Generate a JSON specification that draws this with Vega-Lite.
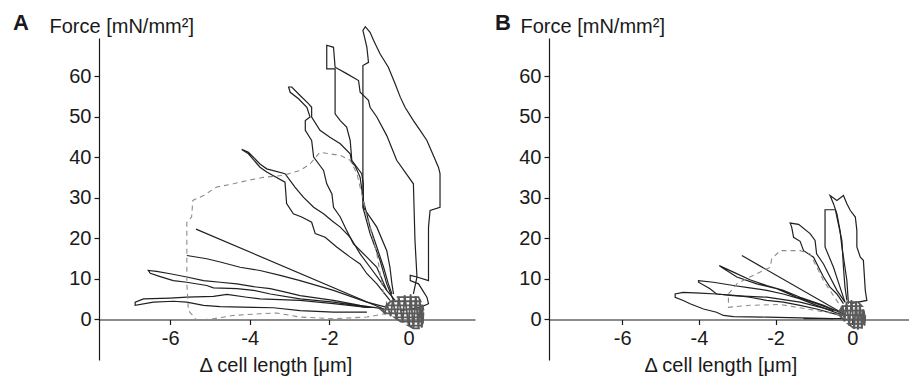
{
"$schema":"https://vega.github.io/schema/vega-lite/v6.json",
"padding":{"left":13,"top":11,"right":0,"bottom":0},
"spacing":20,
"config":{"view":{"stroke":null},"font":"Liberation Sans",
 "axis":{"grid":false,"domainColor":"#1a1a1a","tickColor":"#1a1a1a","labelColor":"#1a1a1a","titleColor":"#1a1a1a","labelFontSize":20,"titleFontSize":20,"titleFontWeight":"normal","tickSize":5,"domainWidth":1.2,"tickWidth":1.2,"labelFont":"Liberation Sans","titleFont":"Liberation Sans"},
 "title":{"fontSize":22,"fontWeight":"bold","color":"#1a1a1a","anchor":"start","frame":"group","font":"Liberation Sans"}},
"datasets":{
"A":[
{"trace":"1","i":0,"x":-0.21,"y":2.2},{"trace":"1","i":1,"x":0.29,"y":3.0},{"trace":"1","i":2,"x":0.50,"y":3.9},{"trace":"1","i":3,"x":0.46,"y":5.5},{"trace":"1","i":4,"x":0.25,"y":8.8},{"trace":"1","i":5,"x":0.04,"y":9.6},{"trace":"1","i":6,"x":0.04,"y":10.9},{"trace":"1","i":7,"x":0.21,"y":10.5},{"trace":"1","i":8,"x":0.50,"y":9.6},{"trace":"1","i":9,"x":0.50,"y":22.8},{"trace":"1","i":10,"x":0.54,"y":26.9},{"trace":"1","i":11,"x":0.79,"y":27.7},{"trace":"1","i":12,"x":0.79,"y":36.0},{"trace":"1","i":13,"x":0.75,"y":37.6},{"trace":"1","i":14,"x":0.46,"y":44.2},{"trace":"1","i":15,"x":0.29,"y":46.7},{"trace":"1","i":16,"x":0.12,"y":49.1},{"trace":"1","i":17,"x":-0.09,"y":52.4},{"trace":"1","i":18,"x":-0.21,"y":54.9},{"trace":"1","i":19,"x":-0.34,"y":58.2},{"trace":"1","i":20,"x":-0.51,"y":62.3},{"trace":"1","i":21,"x":-0.72,"y":65.6},{"trace":"1","i":22,"x":-0.88,"y":68.9},{"trace":"1","i":23,"x":-0.97,"y":70.9},{"trace":"1","i":24,"x":-1.09,"y":72.3},{"trace":"1","i":25,"x":-1.15,"y":71.4},{"trace":"1","i":26,"x":-1.05,"y":67.2},{"trace":"1","i":27,"x":-1.01,"y":63.5},{"trace":"1","i":28,"x":-1.15,"y":62.7},{"trace":"1","i":29,"x":-1.15,"y":45.8},{"trace":"1","i":30,"x":-1.15,"y":27.7},{"trace":"1","i":31,"x":-0.97,"y":21.2},{"trace":"1","i":32,"x":-0.72,"y":14.6},{"trace":"1","i":33,"x":-0.55,"y":8.8},{"trace":"1","i":34,"x":-0.38,"y":4.7},
{"trace":"2","i":0,"x":-0.38,"y":6.3},{"trace":"2","i":1,"x":-0.42,"y":8.8},{"trace":"2","i":2,"x":-0.47,"y":12.9},{"trace":"2","i":3,"x":-0.55,"y":17.0},{"trace":"2","i":4,"x":-0.80,"y":22.8},{"trace":"2","i":5,"x":-1.14,"y":27.7},{"trace":"2","i":6,"x":-1.14,"y":33.5},{"trace":"2","i":7,"x":-1.18,"y":36.0},{"trace":"2","i":8,"x":-1.43,"y":39.3},{"trace":"2","i":9,"x":-1.47,"y":44.2},{"trace":"2","i":10,"x":-1.56,"y":47.5},{"trace":"2","i":11,"x":-1.72,"y":49.1},{"trace":"2","i":12,"x":-1.85,"y":50.8},{"trace":"2","i":13,"x":-1.85,"y":61.9},{"trace":"2","i":14,"x":-2.06,"y":61.9},{"trace":"2","i":15,"x":-2.06,"y":67.7},{"trace":"2","i":16,"x":-1.89,"y":67.2},{"trace":"2","i":17,"x":-1.85,"y":62.3},{"trace":"2","i":18,"x":-1.56,"y":60.7},{"trace":"2","i":19,"x":-1.26,"y":59.0},{"trace":"2","i":20,"x":-1.22,"y":56.1},{"trace":"2","i":21,"x":-1.01,"y":54.1},{"trace":"2","i":22,"x":-0.97,"y":52.4},{"trace":"2","i":23,"x":-0.80,"y":50.0},{"trace":"2","i":24,"x":-0.55,"y":45.4},{"trace":"2","i":25,"x":-0.30,"y":39.3},{"trace":"2","i":26,"x":0.12,"y":33.5},{"trace":"2","i":27,"x":0.16,"y":19.5},{"trace":"2","i":28,"x":0.21,"y":10.5},{"trace":"2","i":29,"x":0.12,"y":6.3},
{"trace":"3","i":0,"x":-0.55,"y":7.2},{"trace":"3","i":1,"x":-0.80,"y":12.9},{"trace":"3","i":2,"x":-1.05,"y":15.4},{"trace":"3","i":3,"x":-1.39,"y":18.7},{"trace":"3","i":4,"x":-1.56,"y":22.0},{"trace":"3","i":5,"x":-1.72,"y":25.3},{"trace":"3","i":6,"x":-1.89,"y":27.7},{"trace":"3","i":7,"x":-1.93,"y":31.0},{"trace":"3","i":8,"x":-2.06,"y":33.5},{"trace":"3","i":9,"x":-2.14,"y":36.8},{"trace":"3","i":10,"x":-2.39,"y":40.1},{"trace":"3","i":11,"x":-2.44,"y":44.2},{"trace":"3","i":12,"x":-2.60,"y":46.7},{"trace":"3","i":13,"x":-2.60,"y":49.1},{"trace":"3","i":14,"x":-2.48,"y":50.0},{"trace":"3","i":15,"x":-2.56,"y":52.4},{"trace":"3","i":16,"x":-2.77,"y":54.5},{"trace":"3","i":17,"x":-2.98,"y":56.1},{"trace":"3","i":18,"x":-3.02,"y":57.4},{"trace":"3","i":19,"x":-2.94,"y":57.4},{"trace":"3","i":20,"x":-2.73,"y":55.3},{"trace":"3","i":21,"x":-2.52,"y":53.3},{"trace":"3","i":22,"x":-2.44,"y":52.4},{"trace":"3","i":23,"x":-2.44,"y":50.0},{"trace":"3","i":24,"x":-2.23,"y":46.7},{"trace":"3","i":25,"x":-1.98,"y":45.0},{"trace":"3","i":26,"x":-1.72,"y":43.4},{"trace":"3","i":27,"x":-1.47,"y":40.9},{"trace":"3","i":28,"x":-1.43,"y":38.8},{"trace":"3","i":29,"x":-1.35,"y":38.0},{"trace":"3","i":30,"x":-1.22,"y":35.1},{"trace":"3","i":31,"x":-1.14,"y":29.4},{"trace":"3","i":32,"x":-0.97,"y":22.8},{"trace":"3","i":33,"x":-0.80,"y":17.9},{"trace":"3","i":34,"x":-0.63,"y":12.9},{"trace":"3","i":35,"x":-0.51,"y":8.8},{"trace":"3","i":36,"x":-0.42,"y":6.3},
{"trace":"4","i":0,"x":-0.47,"y":4.7},{"trace":"4","i":1,"x":-0.80,"y":8.8},{"trace":"4","i":2,"x":-1.05,"y":11.3},{"trace":"4","i":3,"x":-1.22,"y":13.7},{"trace":"4","i":4,"x":-1.47,"y":15.4},{"trace":"4","i":5,"x":-1.81,"y":17.9},{"trace":"4","i":6,"x":-2.10,"y":20.3},{"trace":"4","i":7,"x":-2.35,"y":21.2},{"trace":"4","i":8,"x":-2.44,"y":24.0},{"trace":"4","i":9,"x":-2.69,"y":25.3},{"trace":"4","i":10,"x":-2.90,"y":26.1},{"trace":"4","i":11,"x":-3.07,"y":28.6},{"trace":"4","i":12,"x":-3.11,"y":33.9},{"trace":"4","i":13,"x":-3.57,"y":36.4},{"trace":"4","i":14,"x":-3.74,"y":37.6},{"trace":"4","i":15,"x":-4.03,"y":40.9},{"trace":"4","i":16,"x":-4.20,"y":42.0},{"trace":"4","i":17,"x":-4.03,"y":41.3},{"trace":"4","i":18,"x":-3.74,"y":38.4},{"trace":"4","i":19,"x":-3.57,"y":37.2},{"trace":"4","i":20,"x":-3.11,"y":36.0},{"trace":"4","i":21,"x":-2.98,"y":34.3},{"trace":"4","i":22,"x":-2.86,"y":32.7},{"trace":"4","i":23,"x":-2.65,"y":30.2},{"trace":"4","i":24,"x":-2.39,"y":27.7},{"trace":"4","i":25,"x":-2.14,"y":26.1},{"trace":"4","i":26,"x":-1.93,"y":24.4},{"trace":"4","i":27,"x":-1.72,"y":22.8},{"trace":"4","i":28,"x":-1.47,"y":20.3},{"trace":"4","i":29,"x":-1.22,"y":16.2},{"trace":"4","i":30,"x":-0.97,"y":12.9},{"trace":"4","i":31,"x":-0.72,"y":9.6},{"trace":"4","i":32,"x":-0.55,"y":7.2},{"trace":"4","i":33,"x":-0.34,"y":4.7},
{"trace":"5","i":0,"x":-0.63,"y":6.3},{"trace":"5","i":1,"x":-0.80,"y":16.2},{"trace":"5","i":2,"x":-0.93,"y":21.2},{"trace":"5","i":3,"x":-1.05,"y":25.3},{"trace":"5","i":4,"x":-1.18,"y":31.0},{"trace":"5","i":5,"x":-1.30,"y":36.0},{"trace":"5","i":6,"x":-1.47,"y":39.3},{"trace":"5","i":7,"x":-1.72,"y":40.5},{"trace":"5","i":8,"x":-2.23,"y":41.3},{"trace":"5","i":9,"x":-2.48,"y":38.4},{"trace":"5","i":10,"x":-2.73,"y":36.8},{"trace":"5","i":11,"x":-3.15,"y":35.6},{"trace":"5","i":12,"x":-3.65,"y":35.1},{"trace":"5","i":13,"x":-4.07,"y":34.3},{"trace":"5","i":14,"x":-4.41,"y":33.5},{"trace":"5","i":15,"x":-4.83,"y":32.7},{"trace":"5","i":16,"x":-5.16,"y":30.6},{"trace":"5","i":17,"x":-5.43,"y":29.4},{"trace":"5","i":18,"x":-5.46,"y":25.3},{"trace":"5","i":19,"x":-5.58,"y":24.0},{"trace":"5","i":20,"x":-5.58,"y":17.0},{"trace":"5","i":21,"x":-5.58,"y":8.8},{"trace":"5","i":22,"x":-5.54,"y":2.2},{"trace":"5","i":23,"x":-5.33,"y":-0.2},{"trace":"5","i":24,"x":-4.91,"y":0.2},{"trace":"5","i":25,"x":-4.41,"y":1.0},{"trace":"5","i":26,"x":-3.74,"y":1.4},{"trace":"5","i":27,"x":-3.32,"y":1.6},{"trace":"5","i":28,"x":-2.73,"y":0.6},{"trace":"5","i":29,"x":-1.89,"y":0.2},{"trace":"5","i":30,"x":-1.05,"y":0.6},{"trace":"5","i":31,"x":-0.38,"y":1.8},
{"trace":"6","i":0,"x":-5.35,"y":22.3},{"trace":"6","i":1,"x":-0.63,"y":2.6},
{"trace":"7","i":0,"x":-5.58,"y":15.8},{"trace":"7","i":1,"x":-5.08,"y":15.0},{"trace":"7","i":2,"x":-4.74,"y":14.2},{"trace":"7","i":3,"x":-4.24,"y":12.9},{"trace":"7","i":4,"x":-3.74,"y":12.1},{"trace":"7","i":5,"x":-3.23,"y":10.9},{"trace":"7","i":6,"x":-2.73,"y":9.6},{"trace":"7","i":7,"x":-1.89,"y":7.2},{"trace":"7","i":8,"x":-1.05,"y":4.3},{"trace":"7","i":9,"x":-0.55,"y":3.0},
{"trace":"8","i":0,"x":-1.05,"y":3.0},{"trace":"8","i":1,"x":-1.89,"y":4.3},{"trace":"8","i":2,"x":-2.73,"y":5.1},{"trace":"8","i":3,"x":-3.48,"y":6.3},{"trace":"8","i":4,"x":-3.90,"y":7.2},{"trace":"8","i":5,"x":-4.32,"y":7.6},{"trace":"8","i":6,"x":-4.91,"y":7.8},{"trace":"8","i":7,"x":-5.08,"y":8.4},{"trace":"8","i":8,"x":-5.58,"y":9.2},{"trace":"8","i":9,"x":-5.92,"y":9.6},{"trace":"8","i":10,"x":-6.25,"y":10.6},{"trace":"8","i":11,"x":-6.50,"y":11.4},{"trace":"8","i":12,"x":-6.55,"y":12.1},{"trace":"8","i":13,"x":-6.34,"y":11.9},{"trace":"8","i":14,"x":-6.00,"y":11.3},{"trace":"8","i":15,"x":-5.58,"y":10.5},{"trace":"8","i":16,"x":-5.16,"y":9.6},{"trace":"8","i":17,"x":-4.74,"y":9.2},{"trace":"8","i":18,"x":-4.32,"y":8.8},{"trace":"8","i":19,"x":-3.90,"y":8.1},{"trace":"8","i":20,"x":-3.48,"y":7.6},{"trace":"8","i":21,"x":-3.07,"y":6.7},{"trace":"8","i":22,"x":-2.73,"y":5.9},{"trace":"8","i":23,"x":-1.89,"y":4.7},{"trace":"8","i":24,"x":-1.22,"y":3.5},{"trace":"8","i":25,"x":-0.63,"y":2.6},
{"trace":"9","i":0,"x":-1.05,"y":1.8},{"trace":"9","i":1,"x":-1.89,"y":1.8},{"trace":"9","i":2,"x":-2.73,"y":2.2},{"trace":"9","i":3,"x":-3.40,"y":2.9},{"trace":"9","i":4,"x":-3.90,"y":3.0},{"trace":"9","i":5,"x":-4.74,"y":3.2},{"trace":"9","i":6,"x":-5.16,"y":3.5},{"trace":"9","i":7,"x":-5.58,"y":4.3},{"trace":"9","i":8,"x":-5.92,"y":4.5},{"trace":"9","i":9,"x":-6.42,"y":4.3},{"trace":"9","i":10,"x":-6.88,"y":3.5},{"trace":"9","i":11,"x":-6.88,"y":4.3},{"trace":"9","i":12,"x":-6.67,"y":5.1},{"trace":"9","i":13,"x":-6.00,"y":5.3},{"trace":"9","i":14,"x":-5.58,"y":5.5},{"trace":"9","i":15,"x":-4.91,"y":5.7},{"trace":"9","i":16,"x":-4.57,"y":6.2},{"trace":"9","i":17,"x":-4.07,"y":5.5},{"trace":"9","i":18,"x":-3.74,"y":5.1},{"trace":"9","i":19,"x":-2.73,"y":4.7},{"trace":"9","i":20,"x":-1.89,"y":3.9},{"trace":"9","i":21,"x":-1.05,"y":3.0},
{"trace":"c1","i":0,"x":-0.70,"y":2.6},{"trace":"c1","i":1,"x":-0.60,"y":1.5},{"trace":"c1","i":2,"x":-0.55,"y":3.8},{"trace":"c1","i":3,"x":-0.45,"y":0.8},{"trace":"c1","i":4,"x":-0.40,"y":4.8},{"trace":"c1","i":5,"x":-0.30,"y":0.0},{"trace":"c1","i":6,"x":-0.25,"y":5.6},{"trace":"c1","i":7,"x":-0.15,"y":-0.8},{"trace":"c1","i":8,"x":-0.10,"y":6.0},{"trace":"c1","i":9,"x":0.00,"y":-1.5},{"trace":"c1","i":10,"x":0.05,"y":6.2},{"trace":"c1","i":11,"x":0.12,"y":-2.2},{"trace":"c1","i":12,"x":0.18,"y":5.8},{"trace":"c1","i":13,"x":0.25,"y":-2.3},{"trace":"c1","i":14,"x":0.28,"y":5.0},{"trace":"c1","i":15,"x":0.33,"y":-2.0},{"trace":"c1","i":16,"x":0.35,"y":3.5},{"trace":"c1","i":17,"x":0.36,"y":-1.0},{"trace":"c1","i":18,"x":0.37,"y":1.5},
{"trace":"c2","i":0,"x":-0.30,"y":5.5},{"trace":"c2","i":1,"x":0.25,"y":5.5},{"trace":"c2","i":2,"x":0.30,"y":4.5},{"trace":"c2","i":3,"x":-0.45,"y":4.5},{"trace":"c2","i":4,"x":-0.55,"y":3.5},{"trace":"c2","i":5,"x":0.35,"y":3.5},{"trace":"c2","i":6,"x":0.37,"y":2.5},{"trace":"c2","i":7,"x":-0.70,"y":2.5},{"trace":"c2","i":8,"x":-0.55,"y":1.5},{"trace":"c2","i":9,"x":0.37,"y":1.5},{"trace":"c2","i":10,"x":0.36,"y":0.5},{"trace":"c2","i":11,"x":-0.35,"y":0.5},{"trace":"c2","i":12,"x":-0.20,"y":-0.5},{"trace":"c2","i":13,"x":0.35,"y":-0.5},{"trace":"c2","i":14,"x":0.34,"y":-1.5},{"trace":"c2","i":15,"x":0.00,"y":-1.5},{"trace":"c2","i":16,"x":0.12,"y":-2.2},{"trace":"c2","i":17,"x":0.28,"y":-2.2}
],
"B":[
{"trace":"1","i":0,"x":-2.88,"y":15.8},{"trace":"1","i":1,"x":-0.23,"y":1.4},
{"trace":"2","i":0,"x":-0.23,"y":1.4},{"trace":"2","i":1,"x":-0.75,"y":3.5},{"trace":"2","i":2,"x":-1.36,"y":5.5},{"trace":"2","i":3,"x":-1.80,"y":7.2},{"trace":"2","i":4,"x":-2.23,"y":8.4},{"trace":"2","i":5,"x":-2.67,"y":9.8},{"trace":"2","i":6,"x":-3.10,"y":11.7},{"trace":"2","i":7,"x":-3.47,"y":13.3},{"trace":"2","i":8,"x":-3.41,"y":12.9},{"trace":"2","i":9,"x":-3.01,"y":10.5},{"trace":"2","i":10,"x":-2.49,"y":8.8},{"trace":"2","i":11,"x":-1.97,"y":7.6},{"trace":"2","i":12,"x":-1.45,"y":5.5},{"trace":"2","i":13,"x":-0.93,"y":3.9},{"trace":"2","i":14,"x":-0.32,"y":1.8},
{"trace":"3","i":0,"x":-0.32,"y":1.0},{"trace":"3","i":1,"x":-0.93,"y":2.6},{"trace":"3","i":2,"x":-1.36,"y":3.5},{"trace":"3","i":3,"x":-1.80,"y":4.3},{"trace":"3","i":4,"x":-2.23,"y":4.7},{"trace":"3","i":5,"x":-2.67,"y":5.5},{"trace":"3","i":6,"x":-3.01,"y":5.9},{"trace":"3","i":7,"x":-3.54,"y":6.3},{"trace":"3","i":8,"x":-3.71,"y":7.6},{"trace":"3","i":9,"x":-4.01,"y":9.2},{"trace":"3","i":10,"x":-4.01,"y":9.6},{"trace":"3","i":11,"x":-3.62,"y":9.2},{"trace":"3","i":12,"x":-3.10,"y":8.4},{"trace":"3","i":13,"x":-2.67,"y":7.8},{"trace":"3","i":14,"x":-2.23,"y":7.2},{"trace":"3","i":15,"x":-1.80,"y":6.3},{"trace":"3","i":16,"x":-1.36,"y":5.1},{"trace":"3","i":17,"x":-0.93,"y":3.5},{"trace":"3","i":18,"x":-0.23,"y":1.0},
{"trace":"4","i":0,"x":-0.49,"y":0.2},{"trace":"4","i":1,"x":-1.36,"y":0.4},{"trace":"4","i":2,"x":-2.23,"y":0.6},{"trace":"4","i":3,"x":-3.10,"y":0.7},{"trace":"4","i":4,"x":-3.36,"y":1.0},{"trace":"4","i":5,"x":-3.54,"y":1.8},{"trace":"4","i":6,"x":-3.88,"y":2.6},{"trace":"4","i":7,"x":-4.23,"y":3.9},{"trace":"4","i":8,"x":-4.41,"y":4.7},{"trace":"4","i":9,"x":-4.62,"y":5.5},{"trace":"4","i":10,"x":-4.62,"y":6.3},{"trace":"4","i":11,"x":-4.41,"y":6.7},{"trace":"4","i":12,"x":-3.97,"y":6.5},{"trace":"4","i":13,"x":-3.54,"y":6.3},{"trace":"4","i":14,"x":-3.10,"y":5.9},{"trace":"4","i":15,"x":-2.23,"y":5.5},{"trace":"4","i":16,"x":-1.36,"y":4.3},{"trace":"4","i":17,"x":-0.49,"y":2.2},
{"trace":"5","i":0,"x":-0.23,"y":3.9},{"trace":"5","i":1,"x":-0.40,"y":6.3},{"trace":"5","i":2,"x":-0.58,"y":8.0},{"trace":"5","i":3,"x":-0.75,"y":10.5},{"trace":"5","i":4,"x":-0.88,"y":12.9},{"trace":"5","i":5,"x":-1.01,"y":15.4},{"trace":"5","i":6,"x":-1.27,"y":17.0},{"trace":"5","i":7,"x":-1.36,"y":19.3},{"trace":"5","i":8,"x":-1.53,"y":20.3},{"trace":"5","i":9,"x":-1.58,"y":22.8},{"trace":"5","i":10,"x":-1.62,"y":23.8},{"trace":"5","i":11,"x":-1.40,"y":23.5},{"trace":"5","i":12,"x":-1.10,"y":21.2},{"trace":"5","i":13,"x":-0.97,"y":19.5},{"trace":"5","i":14,"x":-0.93,"y":16.2},{"trace":"5","i":15,"x":-0.75,"y":13.7},{"trace":"5","i":16,"x":-0.58,"y":10.5},{"trace":"5","i":17,"x":-0.40,"y":7.2},{"trace":"5","i":18,"x":-0.19,"y":4.3},
{"trace":"6","i":0,"x":-0.10,"y":3.9},{"trace":"6","i":1,"x":-0.14,"y":9.6},{"trace":"6","i":2,"x":-0.19,"y":12.9},{"trace":"6","i":3,"x":-0.27,"y":17.9},{"trace":"6","i":4,"x":-0.32,"y":22.0},{"trace":"6","i":5,"x":-0.40,"y":26.1},{"trace":"6","i":6,"x":-0.49,"y":28.6},{"trace":"6","i":7,"x":-0.58,"y":30.6},{"trace":"6","i":8,"x":-0.40,"y":29.4},{"trace":"6","i":9,"x":-0.23,"y":30.6},{"trace":"6","i":10,"x":-0.14,"y":28.6},{"trace":"6","i":11,"x":-0.05,"y":26.9},{"trace":"6","i":12,"x":0.08,"y":25.3},{"trace":"6","i":13,"x":0.12,"y":22.0},{"trace":"6","i":14,"x":0.12,"y":17.9},{"trace":"6","i":15,"x":0.21,"y":15.4},{"trace":"6","i":16,"x":0.29,"y":14.6},{"trace":"6","i":17,"x":0.34,"y":7.2},{"trace":"6","i":18,"x":0.38,"y":4.7},{"trace":"6","i":19,"x":-0.05,"y":3.9},
{"trace":"7","i":0,"x":-0.19,"y":4.3},{"trace":"7","i":1,"x":-0.32,"y":8.0},{"trace":"7","i":2,"x":-0.49,"y":12.9},{"trace":"7","i":3,"x":-0.71,"y":17.9},{"trace":"7","i":4,"x":-0.71,"y":27.1},{"trace":"7","i":5,"x":-0.44,"y":27.1},{"trace":"7","i":6,"x":-0.40,"y":25.3},{"trace":"7","i":7,"x":-0.27,"y":19.5},{"trace":"7","i":8,"x":-0.23,"y":12.9},{"trace":"7","i":9,"x":-0.19,"y":8.0},{"trace":"7","i":10,"x":-0.14,"y":4.7},
{"trace":"8","i":0,"x":-0.23,"y":2.2},{"trace":"8","i":1,"x":-0.75,"y":9.6},{"trace":"8","i":2,"x":-1.10,"y":16.2},{"trace":"8","i":3,"x":-1.36,"y":17.0},{"trace":"8","i":4,"x":-1.88,"y":17.0},{"trace":"8","i":5,"x":-2.10,"y":15.0},{"trace":"8","i":6,"x":-2.14,"y":12.9},{"trace":"8","i":7,"x":-2.67,"y":10.5},{"trace":"8","i":8,"x":-3.01,"y":8.8},{"trace":"8","i":9,"x":-3.23,"y":6.3},{"trace":"8","i":10,"x":-3.23,"y":3.0},{"trace":"8","i":11,"x":-2.67,"y":3.5},{"trace":"8","i":12,"x":-1.88,"y":3.7},{"trace":"8","i":13,"x":-0.93,"y":2.2},{"trace":"8","i":14,"x":-0.23,"y":1.0},
{"trace":"9","i":0,"x":-1.27,"y":0.2},{"trace":"9","i":1,"x":-0.23,"y":0.2},
{"trace":"c1","i":0,"x":-0.35,"y":2.0},{"trace":"c1","i":1,"x":-0.30,"y":0.5},{"trace":"c1","i":2,"x":-0.25,"y":3.5},{"trace":"c1","i":3,"x":-0.20,"y":-0.5},{"trace":"c1","i":4,"x":-0.15,"y":4.3},{"trace":"c1","i":5,"x":-0.08,"y":-1.5},{"trace":"c1","i":6,"x":-0.02,"y":4.8},{"trace":"c1","i":7,"x":0.05,"y":-2.3},{"trace":"c1","i":8,"x":0.10,"y":4.5},{"trace":"c1","i":9,"x":0.15,"y":-2.5},{"trace":"c1","i":10,"x":0.20,"y":3.8},{"trace":"c1","i":11,"x":0.25,"y":-2.2},{"trace":"c1","i":12,"x":0.28,"y":2.5},{"trace":"c1","i":13,"x":0.32,"y":-1.5},{"trace":"c1","i":14,"x":0.34,"y":1.0},
{"trace":"c2","i":0,"x":-0.15,"y":4.3},{"trace":"c2","i":1,"x":0.15,"y":4.3},{"trace":"c2","i":2,"x":0.25,"y":3.3},{"trace":"c2","i":3,"x":-0.25,"y":3.3},{"trace":"c2","i":4,"x":-0.33,"y":2.2},{"trace":"c2","i":5,"x":0.30,"y":2.2},{"trace":"c2","i":6,"x":0.32,"y":1.1},{"trace":"c2","i":7,"x":-0.30,"y":1.1},{"trace":"c2","i":8,"x":-0.25,"y":0.0},{"trace":"c2","i":9,"x":0.33,"y":0.0},{"trace":"c2","i":10,"x":0.30,"y":-1.1},{"trace":"c2","i":11,"x":-0.10,"y":-1.1},{"trace":"c2","i":12,"x":0.02,"y":-2.0},{"trace":"c2","i":13,"x":0.28,"y":-2.0}
]},
"hconcat":[
{"width":376,"height":322,
 "title":{"text":"A","dx":-86,"dy":22},
 "data":{"name":"A"},
 "encoding":{
  "x":{"field":"x","type":"quantitative","scale":{"domain":[-7.79,1.67],"nice":false,"zero":false},
   "axis":{"values":[-6,-4,-2,0],"offset":-40.5,"labelPadding":4,"labelExpr":"replace(datum.label, '\u2212', '-')","title":"Δ cell length [μm]","titleAlign":"left","titleX":100,"titlePadding":7}},
  "y":{"field":"y","type":"quantitative","scale":{"domain":[-10,69.5],"nice":false,"zero":false},
   "axis":{"values":[0,10,20,30,40,50,60],"labelPadding":3,"title":"Force [mN/mm²]","titleAngle":0,"titleAlign":"left","titleBaseline":"middle","titleX":-50,"titleY":-11.5}},
  "detail":{"field":"trace","type":"nominal"},
  "order":{"field":"i","type":"quantitative"}},
 "layer":[
  {"transform":[{"filter":"datum.trace != '5' && datum.trace != 'c1' && datum.trace != 'c2'"}],"mark":{"type":"line","color":"#202020","strokeWidth":1.2}},
  {"transform":[{"filter":"datum.trace == '5'"}],"mark":{"type":"line","color":"#8c8c8c","strokeWidth":1.1,"strokeDash":[5,4]}},
  {"transform":[{"filter":"datum.trace == 'c1' || datum.trace == 'c2'"}],"mark":{"type":"line","color":"#5a5a5a","strokeWidth":1.8}}
 ]},
{"width":360,"height":322,
 "title":{"text":"B","dx":-54,"dy":22},
 "data":{"name":"B"},
 "encoding":{
  "x":{"field":"x","type":"quantitative","scale":{"domain":[-7.91,1.48],"nice":false,"zero":false},
   "axis":{"values":[-6,-4,-2,0],"offset":-40.5,"labelPadding":4,"labelExpr":"replace(datum.label, '\u2212', '-')","title":"Δ cell length [μm]","titleAlign":"left","titleX":95,"titlePadding":7}},
  "y":{"field":"y","type":"quantitative","scale":{"domain":[-10,69.5],"nice":false,"zero":false},
   "axis":{"values":[0,10,20,30,40,50,60],"labelPadding":3,"title":"Force [mN/mm²]","titleAngle":0,"titleAlign":"left","titleBaseline":"middle","titleX":-29,"titleY":-11.5}},
  "detail":{"field":"trace","type":"nominal"},
  "order":{"field":"i","type":"quantitative"}},
 "layer":[
  {"transform":[{"filter":"datum.trace != '8' && datum.trace != 'c1' && datum.trace != 'c2'"}],"mark":{"type":"line","color":"#202020","strokeWidth":1.2}},
  {"transform":[{"filter":"datum.trace == '8'"}],"mark":{"type":"line","color":"#8c8c8c","strokeWidth":1.1,"strokeDash":[5,4]}},
  {"transform":[{"filter":"datum.trace == 'c1' || datum.trace == 'c2'"}],"mark":{"type":"line","color":"#5a5a5a","strokeWidth":1.8}}
 ]}
]}
